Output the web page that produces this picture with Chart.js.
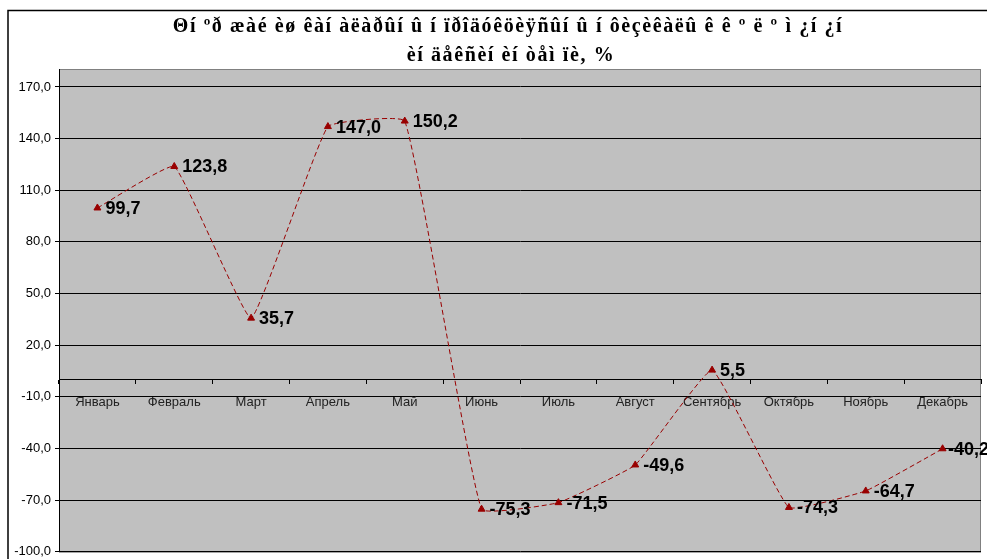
<!DOCTYPE html>
<html>
<head>
<meta charset="utf-8">
<script src="https://cdn.jsdelivr.net/npm/chart.js@4"></script>
<style>
html,body{margin:0;padding:0;background:#fff;overflow:hidden;}
#wrap{position:relative;width:987px;height:559px;}
canvas{display:block;}
</style>
</head>
<body>
<div id="wrap"><canvas id="c" width="987" height="559"></canvas></div>
<script>
const categories = ['Январь','Февраль','Март','Апрель','Май','Июнь','Июль','Август','Сентябрь','Октябрь','Ноябрь','Декабрь'];
const indexValues = [99.7, 123.8, 35.7, 147.0, 150.2, -75.3, -71.5, -49.6, 5.5, -74.3, -64.7, -40.2];
const yTickValues = [-100, -70, -40, -10, 20, 50, 80, 110, 140, 170];
const titleLines = ['Θí ºð æàé èø êàí àëàðûí û í ïðîäóêöèÿñûí û í ôèçèêàëû ê ê º ë º ì ¿í ¿í', 'èí äåêñèí èí òåì ïè, %'];

const fmt = v => v.toFixed(1).replace('.', ',');

const framePlugin = {
  id: 'frame',
  beforeDraw(chart) {
    const {ctx, chartArea: a} = chart;
    ctx.save();
    ctx.fillStyle = '#C0C0C0';
    ctx.fillRect(a.left, a.top, a.right - a.left, a.bottom - a.top);
    ctx.strokeStyle = '#808080';
    ctx.lineWidth = 1;
    ctx.strokeRect(a.left + 0.5, a.top + 0.5, a.right - a.left - 1, a.bottom - a.top);
    // outer frame
    ctx.strokeStyle = '#000';
    ctx.lineWidth = 1.5;
    ctx.beginPath();
    ctx.moveTo(8, 600);
    ctx.lineTo(8, 10.5);
    ctx.lineTo(1000, 10.5);
    ctx.stroke();
    // title
    ctx.fillStyle = '#000';
    ctx.font = 'bold 20px "Liberation Serif", "Times New Roman", serif';
    ctx.letterSpacing = '1.6px';
    ctx.textAlign = 'center';
    ctx.textBaseline = 'middle';
    ctx.fillText(titleLines[0], 508, 27);
    ctx.fillText(titleLines[1], 511, 56);
    ctx.restore();
  }
};

const labelPlugin = {
  id: 'dlabels',
  afterDatasetsDraw(chart) {
    const {ctx} = chart;
    const meta = chart.getDatasetMeta(0);
    ctx.save();
    ctx.font = 'bold 18px "Liberation Sans", Arial, sans-serif';
    ctx.fillStyle = '#000';
    ctx.textAlign = 'left';
    ctx.textBaseline = 'middle';
    meta.data.forEach((pt, i) => {
      const t = fmt(indexValues[i]);
      const w = ctx.measureText(t).width;
      let x = pt.x + 8;
      if (x + w > chart.width + 2) x = chart.width + 2 - w;
      ctx.fillText(t, x, pt.y + 1);
    });
    ctx.restore();
  }
};

new Chart(document.getElementById('c'), {
  type: 'line',
  data: {
    labels: categories,
    datasets: [{
      data: indexValues,
      borderColor: '#990000',
      backgroundColor: '#990000',
      borderWidth: 1,
      borderDash: [5, 3],
      tension: 0.1,
      pointStyle: 'triangle',
      pointRadius: 4,
      pointBackgroundColor: '#990000',
      pointBorderColor: '#990000',
      pointBorderWidth: 1,
      fill: false
    }]
  },
  options: {
    responsive: false,
    animation: false,
    devicePixelRatio: 1,
    layout: {padding: {left: 0, right: 6, top: 69, bottom: 7.3}},
    plugins: {legend: {display: false}, tooltip: {enabled: false}, title: {display: false}},
    scales: {
      x: {
        type: 'category',
        position: {y: 0},
        offset: true,
        grid: {drawOnChartArea: false, drawTicks: true, tickLength: 4, offset: true, color: '#000'},
        border: {display: true, color: '#000', width: 1},
        ticks: {color: '#222', font: {family: '"Liberation Sans", Arial, sans-serif', size: 13}, padding: 11, maxRotation: 0, autoSkip: false}
      },
      y: {
        min: -100,
        max: 180.45,
        afterBuildTicks(scale) { scale.ticks = yTickValues.map(v => ({value: v})); },
        afterFit(scale) { scale.width = 59; scale.paddingTop = 0; scale.paddingBottom = 0; },
        grid: {color: '#000', lineWidth: 1, drawTicks: true, tickLength: 4},
        border: {display: true, color: '#000', width: 1},
        ticks: {color: '#000', font: {family: '"Liberation Sans", Arial, sans-serif', size: 13}, padding: 4, callback: v => fmt(v)}
      }
    }
  },
  plugins: [framePlugin, labelPlugin]
});
</script>
</body>
</html>
